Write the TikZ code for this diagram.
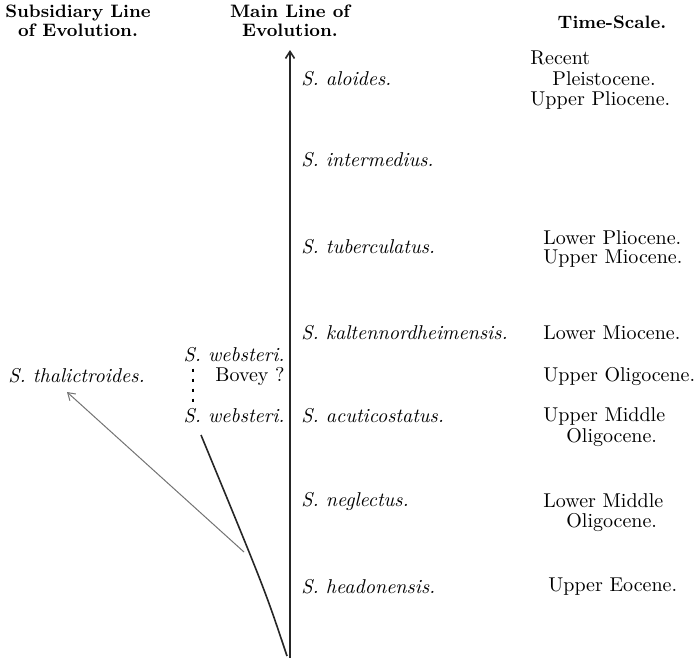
\documentclass[tikz,border=0pt]{standalone}
\usetikzlibrary{arrows.meta}

\begin{document}
\begin{tikzpicture}[
  x=0.5pt, y=-0.5pt,
  >={Straight Barb[length=3.5pt, width=4.5pt]},
  every node/.style={inner sep=0pt, text=black, font=\fontsize{10}{12}\selectfont},
  head/.style={align=center, font=\fontsize{9}{9.5}\selectfont\bfseries},
  species/.style={anchor=west, font=\fontsize{10}{12}\selectfont\itshape},
  period/.style={anchor=west},
  lineage/.style={draw=black!85, line width=0.8pt},
  branch/.style={draw=black!55, line width=0.5pt},
]

\useasboundingbox (0,0) rectangle (699,660);

% Headings
\node[head] (subhead) at (78,21) {Subsidiary Line\\of Evolution.};
\node[head] (mainhead) at (290,21) {Main Line of\\Evolution.};
\node[head] (timehead) at (612,22) {Time-Scale.};

% --- Main line ---
\coordinate (root) at (290,658);
\coordinate (tip) at (290,50);
\draw[lineage, ->] (root) -- (tip);

\node[species] (aloides) at (301,79) {S. aloides.};
\node[species] (intermedius) at (301,160) {S. intermedius.};
\node[species] (tuberculatus) at (301,247) {S. tuberculatus.};
\node[species] (kalten) at (301,333) {S. kaltennordheimensis.};
\node[species] (acuti) at (301,416) {S. acuticostatus.};
\node[species] (neglectus) at (301,501) {S. neglectus.};
\node[species] (headon) at (301,587) {S. headonensis.};

% --- Subsidiary line ---
\node[species, anchor=east] (websteriA) at (285,355) {S. websteri.};
\node[anchor=east] (bovey) at (285,376) {Bovey ?};
\node[species, anchor=east] (websteriB) at (285,416) {S. websteri.};
\node[species] (thalic) at (8,376) {S. thalictroides.};

\draw[line width=1.2pt, dash pattern=on 1.5pt off 3.5pt]
  ([yshift=-3pt]websteriA.south -| 193,0) -- ([yshift=3pt]websteriB.north -| 193,0);

\coordinate (wsbase) at (287,656);
\coordinate (wsfoot) at (201,435);
\draw[lineage] (wsbase) .. controls (265,590) .. (wsfoot);

\coordinate (thbase) at (244,552);
\coordinate (thtip) at (67,392);
\draw[branch, ->] (thbase) -- (thtip);

% --- Time-scale ---
\node[period] (recent) at (530,58) {Recent};
\node[period] (pleist) at (552,79) {Pleistocene.};
\node[period] (uplio) at (530,100) {Upper Pliocene.};
\node[period] (lowplio) at (543,238) {Lower Pliocene.};
\node[period] (upmio) at (543,259) {Upper Miocene.};
\node[period] (lowmio) at (543,333) {Lower Miocene.};
\node[period] (upoligo) at (543,376) {Upper Oligocene.};
\node[period] (upmid) at (543,416) {Upper Middle};
\node[period] (upmidb) at (566,437) {Oligocene.};
\node[period] (lowmid) at (543,501) {Lower Middle};
\node[period] (lowmidb) at (566,522) {Oligocene.};
\node[period] (upeo) at (548,587) {Upper Eocene.};

\end{tikzpicture}
\end{document}
